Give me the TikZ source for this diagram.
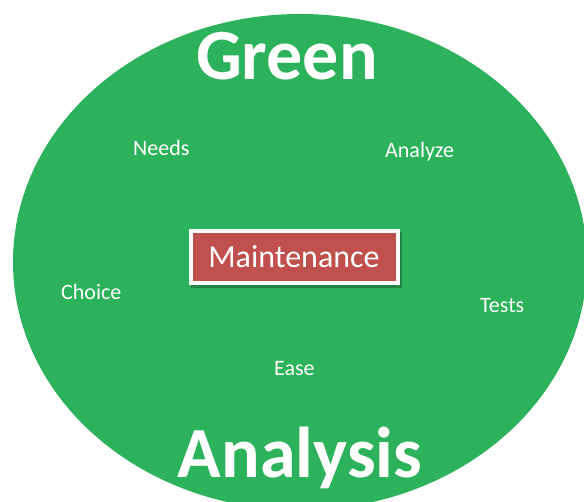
\documentclass[tikz,border=0pt]{standalone}
\usepackage{fontspec}
\setmainfont{Carlito}
\definecolor{ellgreen}{RGB}{44,178,90}
\definecolor{boxred}{RGB}{192,80,77}
\tikzset{
  lbl/.style={text=white, font=\fontsize{22}{26}\selectfont, anchor=base west, inner sep=0pt},
  big/.style={text=white, font=\bfseries\fontsize{72}{86}\selectfont, anchor=base, inner sep=0pt},
  mbox/.style={fill=boxred, draw=white, line width=4pt, text=white,
    font=\fontsize{32}{38}\selectfont, minimum width=207pt, minimum height=52pt, inner sep=0pt}
}
\begin{document}
\begin{tikzpicture}[x=1pt,y=-1pt]
\useasboundingbox (0,0) rectangle (584,502);
\begin{scope}
\clip (0,0) rectangle (584,502);
\fill[ellgreen] (300,262) ellipse [x radius=287, y radius=248];
\end{scope}
\node[big] (green) at (287,80) {Green};
\node[big] (analysis) at (300,478) {Analysis};
\node[lbl] (needs) at (133,156) {Needs};
\node[lbl] (analyze) at (385,158) {Analyze};
\node[lbl] (choice) at (61,300) {Choice};
\node[lbl] (tests) at (480,313) {Tests};
\node[lbl] (ease) at (274,376) {Ease};
\fill[black, opacity=0.25] (191,232) rectangle (402,288);
\node[mbox] (maint) at (294,257) {Maintenance};
\end{tikzpicture}
\end{document}
